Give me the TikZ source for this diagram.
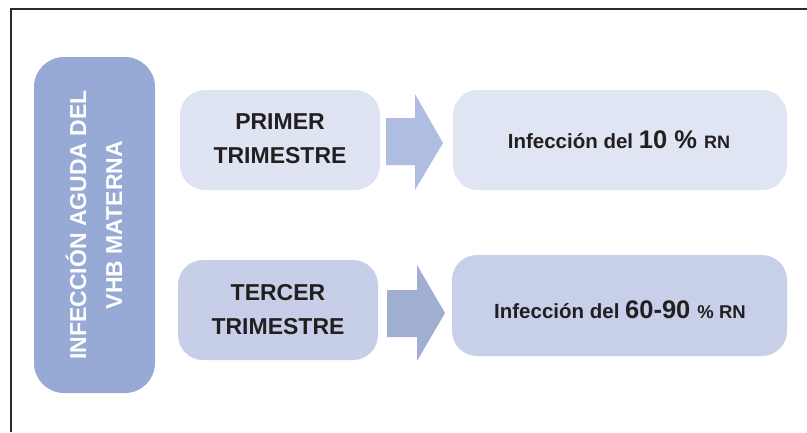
\documentclass[tikz,border=0pt]{standalone}
\usepackage{fontspec}
\setmainfont{Liberation Sans}
\definecolor{mainc}{HTML}{97A9D5}
\definecolor{pric}{HTML}{DFE4F3}
\definecolor{terc}{HTML}{C6CEE8}
\definecolor{arrA}{HTML}{AEBDE1}
\definecolor{arrB}{HTML}{A0AED2}
\definecolor{resA}{HTML}{E0E5F3}
\definecolor{resB}{HTML}{C7CFE9}
\definecolor{txt}{HTML}{231F20}
\definecolor{frame}{HTML}{2B2B2B}
\tikzset{
  rbox/.style={rounded corners=25pt, draw=none},
  lbl/.style={font=\bfseries\fontsize{23}{34}\selectfont, text=txt, align=center},
}
\begin{document}
\begin{tikzpicture}[x=1pt,y=-1pt]
\useasboundingbox (0,0) rectangle (807,432);
\draw[frame, line width=2.5pt] (11,432) -- (11,9) -- (807,9);
% main box
\fill[mainc, rounded corners=30pt] (34,57) rectangle (155,393);
\node[font=\bfseries\fontsize{23}{36}\selectfont, text=white, align=center, rotate=90] (main) at (94,225) {INFECCIÓN AGUDA DEL\\VHB MATERNA};
% trimester boxes
\fill[pric, rbox] (180,90) rectangle (380,190);
\node[lbl] (pri) at (280,139) {PRIMER\\TRIMESTRE};
\fill[terc, rbox] (178,260) rectangle (378,360);
\node[lbl] (ter) at (278,310) {TERCER\\TRIMESTRE};
% arrows
\fill[arrA] (386,118) -- (415,118) -- (415,94) -- (443,143) -- (415,190) -- (415,165) -- (386,165) -- cycle;
\fill[arrB] (387,290) -- (417,290) -- (417,265) -- (445,313) -- (417,361) -- (417,337) -- (387,337) -- cycle;
% result boxes
\fill[resA, rbox] (453,90) rectangle (787,190);
\node[font=\bfseries, text=txt] (r1) at (619,140) {\fontsize{20.5}{24}\selectfont Infección del \fontsize{25.5}{28}\selectfont 10 \% \fontsize{18}{20}\selectfont RN};
\fill[resB, rbox] (452,255) rectangle (787,356);
\node[font=\bfseries, text=txt] (r2) at (620,310) {\fontsize{20.5}{24}\selectfont Infección del \fontsize{25.5}{28}\selectfont 60-90 \fontsize{18.5}{20}\selectfont \% RN};
\end{tikzpicture}
\end{document}
